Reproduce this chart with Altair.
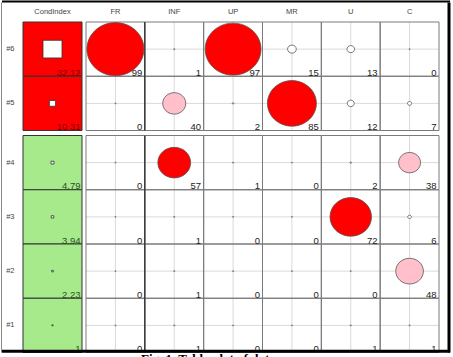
import altair as alt
import pandas as pd

# ---------------- data ----------------
rows = ["#6", "#5", "#4", "#3", "#2", "#1"]
cond_index = [32.12, 10.31, 4.79, 3.94, 2.23, 1]
columns = ["FR", "INF", "UP", "MR", "U", "C"]
row6 = [99, 1, 97, 15, 13, 0]
row5 = [0, 40, 2, 85, 12, 7]
row4 = [0, 57, 1, 0, 2, 38]
row3 = [0, 1, 0, 0, 72, 6]
row2 = [0, 1, 0, 0, 0, 48]
row1 = [0, 1, 0, 0, 1, 1]
caption = "Fig. 1. Table plot of data"
header = "CondIndex"

props = [row6, row5, row4, row3, row2, row1]
cond_df = pd.DataFrame({"row": rows, "cond": cond_index, "hdr": header})
long_df = pd.DataFrame(
    [{"row": r, "col": c, "value": v}
     for r, vals in zip(rows, props) for c, v in zip(columns, vals)]
)
top_rows, bottom_rows = rows[:2], rows[2:]

# ---------------- style ----------------
FONT = "Liberation Sans"
RED = "#ff0000"
PINK = "#ffc0cb"
GREEN = "#a6ea8c"
GRID = "#dadada"
ELLIPSE = ("M-1,0C-1,-0.514,-0.552,-0.93,0,-0.93C0.552,-0.93,1,-0.514,1,0"
           "C1,0.514,0.552,0.93,0,0.93C-0.552,0.93,-1,0.514,-1,0Z")
RECT = "M-1,-0.93L1,-0.93L1,0.93L-1,0.93Z"
PANEL_W = 353
COND_W = 59
ROW_H = 54.25


def band(domain):
    return alt.Scale(type="band", domain=domain, paddingInner=0, paddingOuter=0)


def pos(channel, field, domain, axis, bp=None):
    kw = dict(scale=band(domain), axis=axis, title=None)
    if bp is not None:
        kw["bandPosition"] = bp
    return channel(field, **kw)


def cond_panel(rs, show_header):
    df = cond_df[cond_df["row"].isin(rs)]
    xaxis = (alt.Axis(orient="top", labelPadding=7, labelAngle=0, ticks=False,
                      domain=False, grid=False) if show_header else None)
    yaxis = alt.Axis(orient="left", labelPadding=9, ticks=False, domain=False, grid=False)
    X = lambda bp=None: pos(alt.X, "hdr:N", [header], xaxis, bp)
    Y = lambda bp=None: pos(alt.Y, "row:N", rs, yaxis, bp)
    base = alt.Chart(df)
    cells = base.mark_rect(stroke="#333333", strokeWidth=1).encode(
        x=X(), y=Y(),
        fill=alt.Fill("cond:Q", scale=alt.Scale(type="threshold", domain=[10],
                                                 range=[GREEN, RED]), legend=None),
    )
    squares = base.mark_point(shape=RECT, filled=True, fill="white", stroke="#333333",
                              strokeWidth=0.8, opacity=1).encode(
        x=X(), y=Y(),
        size=alt.Size("cond:Q", scale=alt.Scale(type="pow", exponent=2,
                                                 domain=[0, 32.12], range=[1, 361]),
                      legend=None),
    )
    labels = base.mark_text(align="right", baseline="alphabetic", dx=-1.5, dy=-0.5,
                            font=FONT, fontSize=9.5).encode(
        x=X(1), y=Y(1),
        text=alt.Text("cond:Q"),
        color=alt.condition("datum.cond > 10", alt.value("#7a0000"), alt.value("#2a541c")),
    )
    return alt.layer(cells, squares, labels).properties(width=COND_W, height=ROW_H * len(rs))


def grid_panel(rs, show_header, extra=()):
    df = long_df[long_df["row"].isin(rs)]
    xaxis = alt.Axis(orient="top", labelPadding=7, labelAngle=0, ticks=False, domain=False,
                     grid=False, labels=show_header)
    yaxis = alt.Axis(labels=False, ticks=False, domain=False, grid=False)
    X = lambda bp=None: pos(alt.X, "col:N", columns, xaxis, bp)
    Y = lambda bp=None: pos(alt.Y, "row:N", rs, yaxis, bp)
    base = alt.Chart(df)
    vcross = alt.Chart(pd.DataFrame({"col": columns})).mark_rule(
        color=GRID, strokeWidth=1).encode(x=X(0.5))
    hcross = alt.Chart(pd.DataFrame({"row": rs})).mark_rule(
        color=GRID, strokeWidth=1).encode(y=Y(0.5))
    cells = base.mark_rect(fill="transparent", stroke="#7a7a7a", strokeWidth=1).encode(
        x=X(), y=Y())
    divider = alt.Chart(pd.DataFrame({"col": [columns[1]]})).mark_rule(
        color="#1a1a1a", strokeWidth=1).encode(x=X(0))
    circles = base.mark_point(shape=ELLIPSE, filled=True, stroke="#555555",
                              strokeWidth=0.8, opacity=1).encode(
        x=X(), y=Y(),
        fill=alt.Fill("value:Q", scale=alt.Scale(type="threshold", domain=[30, 50],
                                                  range=["#ffffff", PINK, RED]), legend=None),
        size=alt.Size("value:Q", scale=alt.Scale(type="pow", exponent=2, domain=[0, 99],
                                                  range=[1.2, 3249]), legend=None),
    )
    labels = base.mark_text(align="right", baseline="alphabetic", dx=-2.5, dy=-0.5,
                            color="#222222", font=FONT, fontSize=9.5).encode(
        x=X(1), y=Y(1), text=alt.Text("value:Q"))
    return alt.layer(vcross, hcross, cells, divider, circles, labels, *extra).properties(
        width=PANEL_W, height=ROW_H * len(rs))


# decorative outer frame and caption (pixel offsets relative to bottom-right panel)
fr = alt.Chart(pd.DataFrame({"k": [0]}))
frame_top = fr.mark_rule(color="black", strokeWidth=2).encode(
    x=alt.value(-84), x2=alt.value(364), y=alt.value(-134))
frame_left = fr.mark_rule(color="#888888", strokeWidth=1).encode(
    x=alt.value(-84.5), y=alt.value(-133), y2=alt.value(217))
frame_right = fr.mark_rule(color="black", strokeWidth=3).encode(
    x=alt.value(363), y=alt.value(-133), y2=alt.value(217))
frame_bottom = fr.mark_rule(color="black", strokeWidth=3).encode(
    x=alt.value(-84), x2=alt.value(364), y=alt.value(215.8))
cap = fr.mark_text(align="left", baseline="top", font="Liberation Serif", fontSize=13,
                   fontWeight="bold", color="black").encode(
    x=alt.value(55), y=alt.value(217.5), text=alt.value(caption))

A = cond_panel(top_rows, True)
B = grid_panel(top_rows, True)
C = cond_panel(bottom_rows, False)
D = grid_panel(bottom_rows, False,
               extra=(frame_top, frame_left, frame_right, frame_bottom, cap))

chart = alt.concat(
    A, B, C, D, columns=2,
    spacing=alt.RowColnumber(row=4.5, column=4),
    bounds="flush", padding=0, background="white",
).resolve_scale(
    x="independent", y="independent", fill="independent", size="independent"
).configure_view(strokeWidth=0).configure_axis(
    labelFont=FONT, labelFontSize=7.5, labelColor="#444444",
)

chart.save("out.html", embed_options={"renderer": "svg", "actions": False})
